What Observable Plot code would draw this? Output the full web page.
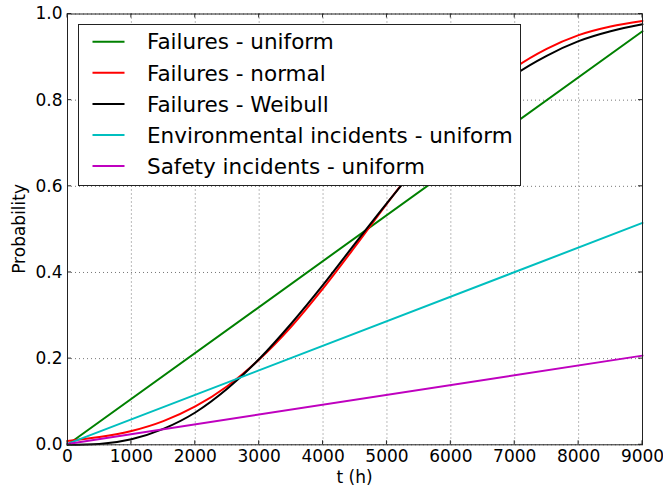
<!DOCTYPE html>
<html>
<head>
<meta charset="utf-8">
<script src="https://cdn.jsdelivr.net/npm/d3@7"></script>
<script src="https://cdn.jsdelivr.net/npm/@observablehq/plot@0.6"></script>
<style>
  html, body { margin: 0; padding: 0; background: #fff; }
</style>
</head>
<body>
<div id="chart"></div>
<script>
// Operating time (hours) at which each probability was sampled
const hours = [0, 500, 1000, 1500, 2000, 2500, 3000, 3500, 4000, 4500,
               5000, 5500, 6000, 6500, 7000, 7500, 8000, 8500, 9000];

// Cumulative probability curves
const failuresNormal = [0.009, 0.018, 0.032, 0.055, 0.089, 0.136, 0.198, 0.274, 0.363, 0.460,
                        0.560, 0.655, 0.742, 0.816, 0.875, 0.919, 0.951, 0.971, 0.984];
const failuresWeibull = [0.000, 0.002, 0.013, 0.037, 0.075, 0.130, 0.199, 0.281, 0.371, 0.467,
                         0.561, 0.651, 0.732, 0.801, 0.859, 0.903, 0.937, 0.960, 0.976];

// Uniform distributions are straight lines: end points only
const uniformHours = [0, 9000];
const failuresUniform = [0.000, 0.960];
const environmentalUniform = [0.002, 0.515];
const safetyUniform = [0.002, 0.207];

const xTicks = [0, 1000, 2000, 3000, 4000, 5000, 6000, 7000, 8000, 9000];
const yTicks = [0.0, 0.2, 0.4, 0.6, 0.8, 1.0];

const seriesNames = [
  "Failures - uniform",
  "Failures - normal",
  "Failures - Weibull",
  "Environmental incidents - uniform",
  "Safety incidents - uniform"
];
const seriesColors = ["#008000", "#ff0000", "#000000", "#00bfbf", "#bf00bf"];

const seriesData = [
  [uniformHours, failuresUniform],
  [hours, failuresNormal],
  [hours, failuresWeibull],
  [uniformHours, environmentalUniform],
  [uniformHours, safetyUniform]
];

const rows = seriesData.flatMap(([xs, ys], s) =>
  xs.map((t, i) => ({series: seriesNames[s], t, p: ys[i]}))
);

const W = 663, H = 488;
const margin = {left: 67, right: 21, top: 13.5, bottom: 43.7};

const chart = Plot.plot({
  width: W,
  height: H,
  marginLeft: margin.left,
  marginRight: margin.right,
  marginTop: margin.top,
  marginBottom: margin.bottom,
  style: {fontFamily: "DejaVu Sans, Bitstream Vera Sans, sans-serif", fontSize: "17px", color: "#000", background: "#fff"},
  x: {domain: [0, 9000]},
  y: {domain: [0, 1]},
  color: {domain: seriesNames, range: seriesColors},
  marks: [
    Plot.gridX(xTicks, {stroke: "#777", strokeOpacity: 1, strokeWidth: 1, strokeDasharray: "1,3"}),
    Plot.gridY(yTicks, {stroke: "#777", strokeOpacity: 1, strokeWidth: 1, strokeDasharray: "1,3"}),
    ...seriesNames.map((name) =>
      Plot.line(rows.filter((d) => d.series === name), {
        x: "t", y: "p", stroke: "series", strokeWidth: 2, curve: "monotone-x"
      })
    ),
    Plot.axisX(xTicks, {tickSize: 0, tickPadding: 5.5, tickFormat: (d) => String(d), label: null}),
    Plot.axisY(yTicks, {tickSize: 0, tickPadding: 5, tickFormat: d3.format(".1f"), label: null}),
    Plot.frame({stroke: "#222", strokeWidth: 1})
  ]
});

document.getElementById("chart").appendChild(chart);

// Inward tick marks on all four sides, placed with the chart's own scales
const sx = chart.scale("x"), sy = chart.scale("y");
const svg = d3.select(chart);
const x0 = margin.left, x1 = W - margin.right, y0 = margin.top, y1 = H - margin.bottom;
const tickLen = 4;
const ticks = svg.append("g").attr("stroke", "#222").attr("stroke-width", 1);
xTicks.forEach((v) => {
  const px = sx.apply(v);
  ticks.append("line").attr("x1", px).attr("x2", px).attr("y1", y1).attr("y2", y1 - tickLen);
  ticks.append("line").attr("x1", px).attr("x2", px).attr("y1", y0).attr("y2", y0 + tickLen);
});
yTicks.forEach((v) => {
  const py = sy.apply(v);
  ticks.append("line").attr("x1", x0).attr("x2", x0 + tickLen).attr("y1", py).attr("y2", py);
  ticks.append("line").attr("x1", x1).attr("x2", x1 - tickLen).attr("y1", py).attr("y2", py);
});

// Axis titles
svg.append("text")
  .attr("x", (x0 + x1) / 2).attr("y", 483)
  .attr("text-anchor", "middle")
  .attr("font-size", "17px").attr("fill", "#000")
  .text("t (h)");
svg.append("text")
  .attr("transform", `translate(25,${(y0 + y1) / 2}) rotate(-90)`)
  .attr("text-anchor", "middle")
  .attr("font-size", "17px").attr("fill", "#000")
  .text("Probability");

// Legend box in the upper left of the plotting area
const legend = svg.append("g");
legend.append("rect")
  .attr("x", 78.5).attr("y", 24.5).attr("width", 442).attr("height", 161)
  .attr("fill", "#fff").attr("stroke", "#222").attr("stroke-width", 1);
seriesNames.forEach((name, i) => {
  const ly = 41.7 + i * 31.1;
  legend.append("line")
    .attr("x1", 92.5).attr("x2", 124.5).attr("y1", ly).attr("y2", ly)
    .attr("stroke", seriesColors[i]).attr("stroke-width", 2);
  legend.append("text")
    .attr("x", 147).attr("y", ly).attr("dy", "0.36em")
    .attr("text-anchor", "start")
    .attr("font-size", "21.5px").attr("fill", "#000")
    .text(name);
});
</script>
</body>
</html>
